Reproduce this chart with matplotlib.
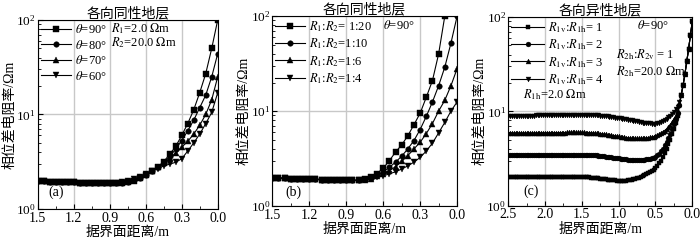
import numpy as np
import matplotlib
matplotlib.use('Agg')
import matplotlib.pyplot as plt
from matplotlib.ticker import MultipleLocator

plt.rcParams['font.family'] = ['Liberation Serif', 'Noto Sans CJK SC']
plt.rcParams['mathtext.fontset'] = 'stix'

# ---- panel (a): isotropic, varying dip angle ----
x_a = np.round(np.arange(1.5, -0.001, -0.05), 3)
a_labels = [r'$\theta$=90°', r'$\theta$=80°', r'$\theta$=70°', r'$\theta$=60°']
a_theta90 = [1.96, 1.96, 1.95, 1.94, 1.93, 1.92, 1.91, 1.9, 1.89, 1.88, 1.87, 1.86, 1.86, 1.87,
             1.88, 1.93, 2.0, 2.12, 2.28, 2.5, 2.78, 3.17, 3.8, 4.6, 6.0, 8.0, 11.2, 17.0, 27.0, 50.0, 100.0]
a_theta80 = [1.96, 1.96, 1.95, 1.94, 1.93, 1.92, 1.91, 1.9, 1.89, 1.88, 1.87, 1.86, 1.86, 1.87,
             1.9, 1.95, 2.03, 2.15, 2.3, 2.5, 2.75, 3.1, 3.6, 4.3, 5.3, 6.7, 8.7, 11.8, 16.0, 25.0, 44.0]
a_theta70 = [1.96, 1.96, 1.95, 1.94, 1.93, 1.92, 1.91, 1.9, 1.89, 1.88, 1.87, 1.86, 1.86, 1.88,
             1.92, 1.98, 2.06, 2.18, 2.33, 2.52, 2.75, 3.05, 3.45, 3.9, 4.5, 5.2, 6.2, 7.7, 10.0, 14.3, 25.0]
a_theta60 = [1.96, 1.96, 1.95, 1.94, 1.93, 1.92, 1.91, 1.9, 1.89, 1.88, 1.87, 1.86, 1.87, 1.89,
             1.93, 2.0, 2.08, 2.2, 2.35, 2.52, 2.68, 2.85, 2.98, 3.12, 3.4, 4.1, 5.0, 6.2, 8.0, 10.5, 17.0]

# ---- panel (b): isotropic, varying resistivity contrast ----
x_b = np.round(np.arange(1.5, -0.001, -0.05), 3)
b_labels = [r'$R_1$:$R_2$= 1:20', r'$R_1$:$R_2$=1:10', r'$R_1$:$R_2$=1:6', r'$R_1$:$R_2$=1:4']
b_r20 = [1.97, 1.97, 1.96, 1.95, 1.94, 1.93, 1.92, 1.91, 1.9, 1.89, 1.88, 1.87, 1.86, 1.86, 1.87, 1.92,
         2.0, 2.2, 2.5, 3.0, 3.7, 4.4, 5.5, 7.2, 9.5, 14.0, 21.0, 40.0, 100.0, 300.0, 1000.0]
b_r10 = [1.97, 1.97, 1.96, 1.95, 1.94, 1.93, 1.92, 1.91, 1.9, 1.89, 1.88, 1.87, 1.86, 1.86, 1.87, 1.91,
         1.98, 2.12, 2.3, 2.55, 2.9, 3.35, 4.0, 4.9, 6.4, 8.8, 12.5, 18.5, 29.0, 52.0, 100.0]
b_r6 = [1.97, 1.97, 1.96, 1.95, 1.94, 1.93, 1.92, 1.91, 1.9, 1.89, 1.88, 1.87, 1.86, 1.86, 1.87, 1.9,
        1.95, 2.05, 2.18, 2.35, 2.6, 2.95, 3.4, 4.0, 4.7, 5.8, 7.4, 10.0, 13.0, 18.5, 28.0]
b_r4 = [1.97, 1.97, 1.96, 1.95, 1.94, 1.93, 1.92, 1.91, 1.9, 1.89, 1.88, 1.87, 1.86, 1.86, 1.87, 1.89,
        1.93, 2.0, 2.08, 2.18, 2.3, 2.45, 2.65, 2.9, 3.25, 3.8, 4.6, 5.9, 7.6, 10.0, 12.5]

# ---- panel (c): anisotropic upper layer ----
x_c = np.round(np.arange(2.5, -0.001, -0.025), 3)
c_labels = [r'$R_{\rm 1v}$:$R_{\rm 1h}$= 1', r'$R_{\rm 1v}$:$R_{\rm 1h}$= 2',
            r'$R_{\rm 1v}$:$R_{\rm 1h}$= 3', r'$R_{\rm 1v}$:$R_{\rm 1h}$= 4']
c_tail = [15.0, 19.0, 25.0, 34.0, 46.0, 65.0, 90.0]
c_ratio1 = [2.02, 2.02, 2.02, 2.02, 2.02, 2.02, 2.02, 2.02, 2.02, 2.02,
            2.02, 2.02, 2.02, 2.02, 2.02, 2.02, 2.02, 2.03, 2.03, 2.03,
            2.03, 2.03, 2.03, 2.03, 2.03, 2.03, 2.03, 2.03, 2.03, 2.03,
            2.03, 2.03, 2.03, 2.03, 2.03, 2.03, 2.03, 2.03, 2.02, 2.02,
            2.02,
            2.01, 2.0, 2.0, 1.99, 1.98, 1.97, 1.96, 1.95, 1.94, 1.93,
            1.92, 1.91, 1.9, 1.89, 1.88, 1.87, 1.86, 1.85, 1.84, 1.84,
            1.83, 1.83, 1.83, 1.84, 1.85, 1.86, 1.88, 1.9, 1.92, 1.95,
            1.98, 2.02, 2.06, 2.1, 2.15, 2.2, 2.26, 2.32, 2.39,
            2.5, 2.65, 2.8, 3.0, 3.3, 3.6, 4.0, 4.5, 5.0, 5.7, 6.5, 7.6, 9.0, 11.5] + c_tail
c_ratio2 = [3.45, 3.45, 3.45, 3.45, 3.45, 3.45, 3.45, 3.45, 3.45, 3.45,
            3.45, 3.45, 3.45, 3.45, 3.45, 3.46, 3.46, 3.46, 3.46, 3.46,
            3.46, 3.46, 3.46, 3.46, 3.46, 3.46, 3.46, 3.46, 3.46, 3.47,
            3.47, 3.47, 3.47, 3.47, 3.47, 3.47, 3.47, 3.47, 3.47, 3.47,
            3.47,
            3.47, 3.46, 3.46, 3.45, 3.44, 3.43, 3.42, 3.41, 3.39, 3.37,
            3.35, 3.33, 3.31, 3.29, 3.27, 3.25, 3.23, 3.21, 3.19, 3.17,
            3.15, 3.13, 3.11, 3.1, 3.08, 3.07, 3.06, 3.05, 3.05, 3.05,
            3.05, 3.06, 3.07, 3.08, 3.1, 3.12, 3.15, 3.18, 3.22,
            3.3, 3.4, 3.55, 3.75, 4.0, 4.35, 4.75, 5.2, 5.8, 6.5, 7.3, 8.2, 9.5, 11.8] + c_tail
c_ratio3 = [5.9, 5.9, 5.9, 5.9, 5.9, 5.9, 5.9, 5.9, 5.9, 5.9,
            5.9, 5.9, 5.9, 5.9, 5.9, 5.91, 5.91, 5.91, 5.92, 5.92,
            5.92, 5.93, 5.93, 5.93, 5.94, 5.94, 5.95, 5.95, 5.95, 5.96,
            5.96, 5.96, 5.97, 5.97, 5.97, 5.97, 5.97, 5.97, 5.97, 5.97,
            5.97,
            5.97, 5.96, 5.95, 5.94, 5.92, 5.9, 5.88, 5.85, 5.82, 5.79,
            5.76, 5.73, 5.7, 5.66, 5.62, 5.58, 5.54, 5.5, 5.46, 5.42,
            5.38, 5.34, 5.3, 5.27, 5.24, 5.21, 5.19, 5.17, 5.16, 5.15,
            5.15, 5.16, 5.17, 5.19, 5.22, 5.25, 5.29, 5.34, 5.4,
            5.5, 5.6, 5.75, 5.9, 6.05, 6.25, 6.5, 6.8, 7.2, 7.7, 8.3, 9.0, 10.0, 12.0] + c_tail
c_ratio4 = [9.0, 9.0, 9.0, 9.0, 9.0, 9.0, 9.0, 9.0, 9.0, 9.0,
            9.0, 9.0, 9.01, 9.02, 9.03, 9.04, 9.05, 9.06, 9.07, 9.08,
            9.09, 9.1, 9.11, 9.12, 9.13, 9.14, 9.15, 9.16, 9.17, 9.18,
            9.18, 9.19, 9.19, 9.2, 9.2, 9.2, 9.2, 9.2, 9.2, 9.2,
            9.2,
            9.2, 9.2, 9.18, 9.16, 9.14, 9.12, 9.1, 9.07, 9.04, 9.0,
            8.96, 8.92, 8.87, 8.82, 8.77, 8.72, 8.66, 8.6, 8.54, 8.48,
            8.42, 8.36, 8.3, 8.23, 8.16, 8.09, 8.02, 7.95, 7.88, 7.81,
            7.74, 7.67, 7.6, 7.55, 7.5, 7.46, 7.43, 7.41, 7.4,
            7.4, 7.45, 7.55, 7.7, 7.9, 8.1, 8.35, 8.65, 9.0, 9.4, 9.9, 10.5, 11.2, 12.5] + c_tail

markers = ['s', 'o', '^', 'v']
grid_color = '#c8c8c8'
fs_text = 9


def style_axis(ax, xmax, xstep, title):
    ax.set_yscale('log')
    ax.set_ylim(1, 100)
    ax.set_xlim(xmax, 0)
    ax.xaxis.set_major_locator(MultipleLocator(xstep))
    ax.xaxis.set_minor_locator(MultipleLocator(xstep / 2))
    ax.xaxis.set_major_formatter(plt.FuncFormatter(lambda v, p: f'{v:.1f}'))
    ax.tick_params(which='both', direction='in', labelsize=10, pad=2)
    ax.tick_params(axis='y', labelsize=9.5, pad=1.5)
    ax.tick_params(which='major', length=3.5)
    ax.tick_params(which='minor', length=2)
    ax.grid(True, which='major', color=grid_color, linewidth=1.0)
    ax.set_axisbelow(True)
    ax.set_title(title, fontsize=10, pad=2)
    ax.set_xlabel('据界面距离/m', fontsize=10, labelpad=1)
    ax.set_ylabel('相位差电阻率/Ωm', fontsize=10, labelpad=0)


def draw_series(ax, x, series, labels, ms):
    for y, m, lab in zip(series, markers, labels):
        if len(y) != len(x):
            raise ValueError(f'{lab}: {len(y)} vs {len(x)}')
        ax.plot(x, y, color='black', linewidth=0.8, marker=m, markersize=ms,
                markeredgewidth=0.3, label=lab, clip_on=True)


fig = plt.figure(figsize=(7.0, 2.41), dpi=100)
ax_a = fig.add_axes([0.054, 0.133, 0.257, 0.784])
ax_b = fig.add_axes([0.389, 0.145, 0.264, 0.788])
ax_c = fig.add_axes([0.726, 0.147, 0.263, 0.782])

leg_kw = dict(loc='upper left', frameon=False, fontsize=fs_text, handletextpad=0.3,
              labelspacing=0.2, borderaxespad=0.15, borderpad=0.1)

draw_series(ax_a, x_a, [a_theta90, a_theta80, a_theta70, a_theta60], a_labels, 4)
style_axis(ax_a, 1.5, 0.3, '各向同性地层')
ax_a.legend(handlelength=2.4, **leg_kw)
ax_a.text(0.405, 0.955, r'$R_1$=2.0 $\Omega$m', transform=ax_a.transAxes, fontsize=fs_text, va='center')
ax_a.text(0.405, 0.88, r'$R_2$=20.0 $\Omega$m', transform=ax_a.transAxes, fontsize=fs_text, va='center')
ax_a.text(0.06, 0.09, '(a)', transform=ax_a.transAxes, fontsize=10, va='center')

draw_series(ax_b, x_b, [b_r20, b_r10, b_r6, b_r4], b_labels, 4)
style_axis(ax_b, 1.5, 0.3, '各向同性地层')
ax_b.legend(handlelength=2.4, **leg_kw)
ax_b.text(0.6, 0.95, r'$\theta$=90°', transform=ax_b.transAxes, fontsize=fs_text, va='center')
ax_b.text(0.07, 0.075, '(b)', transform=ax_b.transAxes, fontsize=10, va='center')

draw_series(ax_c, x_c, [c_ratio1, c_ratio2, c_ratio3, c_ratio4], c_labels, 3.5)
style_axis(ax_c, 2.5, 0.5, '各向异性地层')
ax_c.legend(handlelength=2.6, **leg_kw)
ax_c.text(0.70, 0.955, r'$\theta$=90°', transform=ax_c.transAxes, fontsize=fs_text, va='center')
ax_c.text(0.585, 0.80, r'$R_{\rm 2h}$:$R_{\rm 2v}$ = 1', transform=ax_c.transAxes, fontsize=fs_text, va='center')
ax_c.text(0.585, 0.71, r'$R_{\rm 2h}$=20.0 $\Omega$m', transform=ax_c.transAxes, fontsize=fs_text, va='center')
ax_c.text(0.08, 0.59, r'$R_{\rm 1h}$=2.0 $\Omega$m', transform=ax_c.transAxes, fontsize=fs_text, va='center')
ax_c.text(0.08, 0.075, '(c)', transform=ax_c.transAxes, fontsize=10, va='center')

fig.savefig('out.png', dpi=100)
